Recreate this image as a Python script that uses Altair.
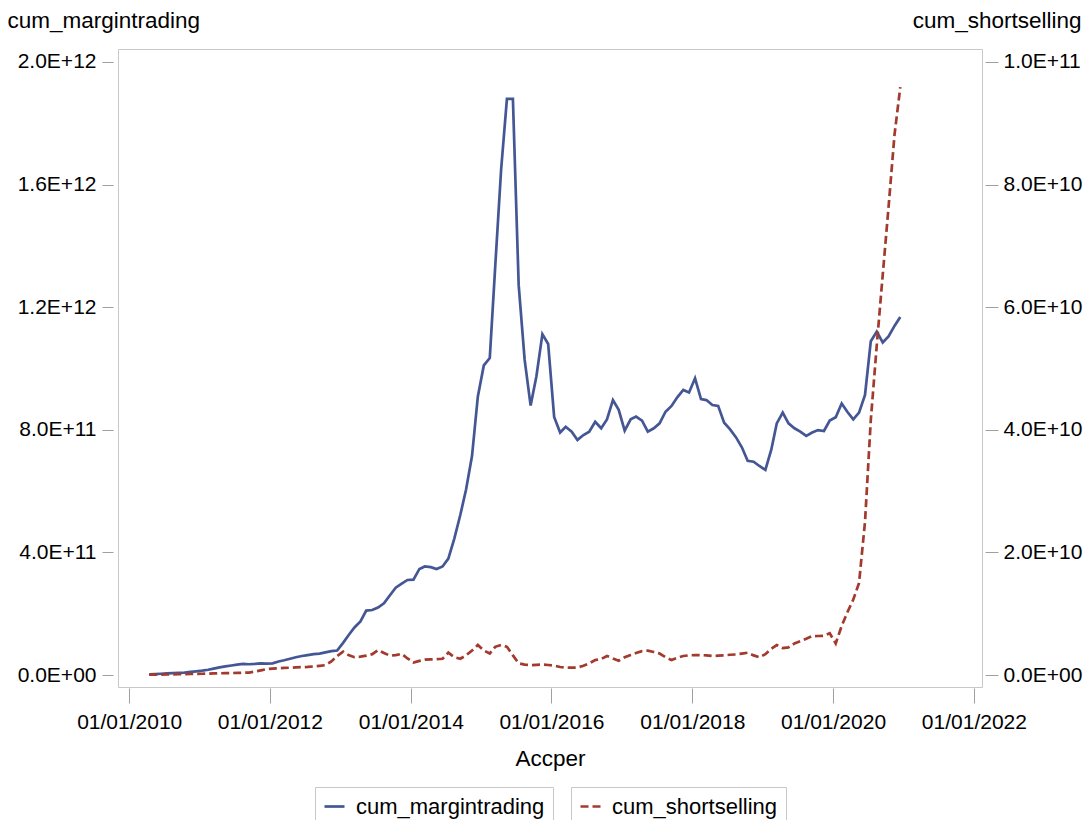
import altair as alt
import pandas as pd

# Monthly observations, April 2010 through December 2020
start_month = "2010-04-01"
n_months = 129

# Cumulative margin trading balance, in units of 1e11
margin_e11 = [
    0.02, 0.03, 0.04, 0.05, 0.06, 0.07, 0.08, 0.10, 0.12, 0.14,
    0.17, 0.21, 0.25, 0.28, 0.31, 0.34, 0.36, 0.35, 0.36, 0.38,
    0.37, 0.38, 0.44, 0.48, 0.53, 0.58, 0.62, 0.65, 0.68, 0.70,
    0.74, 0.78, 0.80, 1.05, 1.32, 1.55, 1.75, 2.10, 2.12, 2.20,
    2.34, 2.60, 2.85, 2.98, 3.10, 3.11, 3.46, 3.54, 3.52, 3.46,
    3.54, 3.80, 4.45, 5.22, 6.05, 7.15, 9.08, 10.10, 10.34, 13.30,
    16.50, 18.80, 18.80, 12.72, 10.28, 8.79, 9.75, 11.12, 10.80, 8.42,
    7.91, 8.10, 7.94, 7.67, 7.83, 7.94, 8.26, 8.05, 8.34, 8.97,
    8.65, 7.97, 8.34, 8.43, 8.30, 7.94, 8.05, 8.21, 8.59, 8.78,
    9.06, 9.30, 9.22, 9.68, 9.00, 8.97, 8.81, 8.78, 8.23, 8.02,
    7.76, 7.43, 6.99, 6.96, 6.82, 6.69, 7.36, 8.21, 8.56, 8.21,
    8.05, 7.94, 7.80, 7.91, 7.99, 7.96, 8.30, 8.41, 8.86, 8.59,
    8.34, 8.56, 9.14, 10.89, 11.20, 10.85, 11.05, 11.39, 11.68,
]

# Cumulative short selling balance, in units of 1e9
short_e9 = [
    0.05, 0.05, 0.06, 0.08, 0.10, 0.12, 0.14, 0.16, 0.18, 0.20,
    0.22, 0.26, 0.28, 0.30, 0.32, 0.34, 0.36, 0.40, 0.55, 0.75,
    0.95, 1.05, 1.10, 1.15, 1.19, 1.25, 1.28, 1.32, 1.40, 1.50,
    1.60, 2.20, 3.10, 3.80, 3.20, 2.90, 3.00, 3.15, 3.40, 4.05,
    3.60, 3.15, 3.25, 3.45, 2.70, 2.05, 2.30, 2.50, 2.55, 2.58,
    2.65, 3.65, 2.90, 2.65, 3.20, 4.00, 4.90, 4.00, 3.50, 4.60,
    4.90, 4.60, 3.20, 1.90, 1.70, 1.60, 1.65, 1.70, 1.63, 1.55,
    1.30, 1.20, 1.20, 1.22, 1.50, 1.90, 2.45, 2.60, 3.10, 2.70,
    2.34, 2.90, 3.26, 3.60, 3.90, 3.97, 3.75, 3.50, 2.90, 2.45,
    2.80, 3.10, 3.20, 3.26, 3.25, 3.20, 3.10, 3.15, 3.20, 3.30,
    3.35, 3.50, 3.64, 3.20, 2.88, 3.40, 4.30, 4.89, 4.40, 4.50,
    5.15, 5.50, 5.90, 6.35, 6.36, 6.40, 6.80, 5.15, 8.00, 10.20,
    12.30, 15.00, 25.00, 41.60, 53.80, 65.30, 76.30, 88.10, 95.90,
]

tick_years = [2010, 2012, 2014, 2016, 2018, 2020, 2022]
left_ticks = [0, 4e11, 8e11, 1.2e12, 1.6e12, 2.0e12]
right_ticks = [0, 2e10, 4e10, 6e10, 8e10, 1.0e11]

months = pd.date_range(start_month, periods=n_months, freq="MS") + pd.Timedelta(days=14)
df = pd.DataFrame({
    "Accper": months.strftime("%Y-%m-%dT00:00:00"),
    "cum_margintrading": [v * 1e11 for v in margin_e11],
    "cum_shortselling": [v * 1e9 for v in short_e9],
})

FONT = "Liberation Sans"
BLUE = "#445694"
RED = "#A23A2E"
sci_label = "datum.value == 0 ? '0.0E+00' : upper(format(datum.value, '.1e'))"

x_enc = alt.X(
    "Accper:T",
    scale=alt.Scale(domain=[alt.DateTime(year=2009, month=11, date=4),
                            alt.DateTime(year=2022, month=2, date=12)]),
    axis=alt.Axis(
        values=[alt.DateTime(year=y, month=1, date=1) for y in tick_years],
        format="%m/%d/%Y", title="Accper", offset=1, tickSize=15,
        labelPadding=8, titleY=77, titleBaseline="alphabetic",
    ),
)

base = alt.Chart(df)

margin_line = base.transform_calculate(series="'cum_margintrading'").mark_line(
    strokeWidth=2.7, color=BLUE
).encode(
    x=x_enc,
    y=alt.Y(
        "cum_margintrading:Q",
        scale=alt.Scale(domain=[-3.915e10, 2.0424e12], nice=False, zero=False),
        axis=alt.Axis(
            orient="left", values=left_ticks, labelExpr=sci_label,
            title="cum_margintrading", titleAngle=0, titleAlign="left",
            titleBaseline="alphabetic", titleX=-106, titleY=-22,
            offset=5, tickSize=11, labelPadding=6,
        ),
    ),
    color=alt.Color(
        "series:N", title=None,
        scale=alt.Scale(domain=["cum_margintrading"], range=[BLUE]),
        legend=alt.Legend(
            orient="none", legendX=197, legendY=738, strokeColor="#C8C8C8",
            padding=8, symbolType="stroke", symbolSize=400, symbolStrokeWidth=2.7,
            labelFont=FONT, labelFontSize=22, labelColor="#000000",
            labelOffset=10, labelLimit=400,
        ),
    ),
)

short_line = base.transform_calculate(series="'cum_shortselling'").mark_line(
    strokeWidth=2.7, strokeDash=[8, 4], color=RED
).encode(
    x=x_enc,
    y=alt.Y(
        "cum_shortselling:Q",
        scale=alt.Scale(domain=[-1.9575e9, 1.0212e11], nice=False, zero=False),
        axis=alt.Axis(
            orient="right", values=right_ticks, labelExpr=sci_label,
            title="cum_shortselling", titleAngle=0, titleAlign="right",
            titleBaseline="alphabetic", titleX=96, titleY=-22,
            offset=3, tickSize=13, labelPadding=5,
        ),
    ),
    color=alt.Color(
        "series:N", title=None,
        scale=alt.Scale(domain=["cum_shortselling"], range=[RED]),
        legend=alt.Legend(
            orient="none", legendX=453, legendY=738, strokeColor="#C8C8C8",
            padding=8, symbolType="stroke", symbolSize=400, symbolStrokeWidth=2.7,
            symbolDash=[8, 4], labelFont=FONT, labelFontSize=22,
            labelColor="#000000", labelOffset=10, labelLimit=400,
        ),
    ),
)

chart = (
    alt.layer(margin_line, short_line)
    .resolve_scale(y="independent", color="independent")
    .properties(
        width=864, height=638,
        autosize=alt.AutoSizeParams(type="none"),
        padding={"left": 118, "top": 49, "right": 107, "bottom": 133},
        background="white",
    )
    .configure_view(stroke="#C8C8C8", strokeWidth=1)
    .configure_axis(
        grid=False, domain=False,
        labelFont=FONT, labelFontSize=21, labelColor="#000000",
        tickColor="#A0A0A0", tickWidth=1,
        titleFont=FONT, titleFontSize=22.5, titleColor="#000000",
        titleFontWeight="normal",
    )
)

chart.save("out.html", embed_options={"renderer": "svg", "actions": False})
